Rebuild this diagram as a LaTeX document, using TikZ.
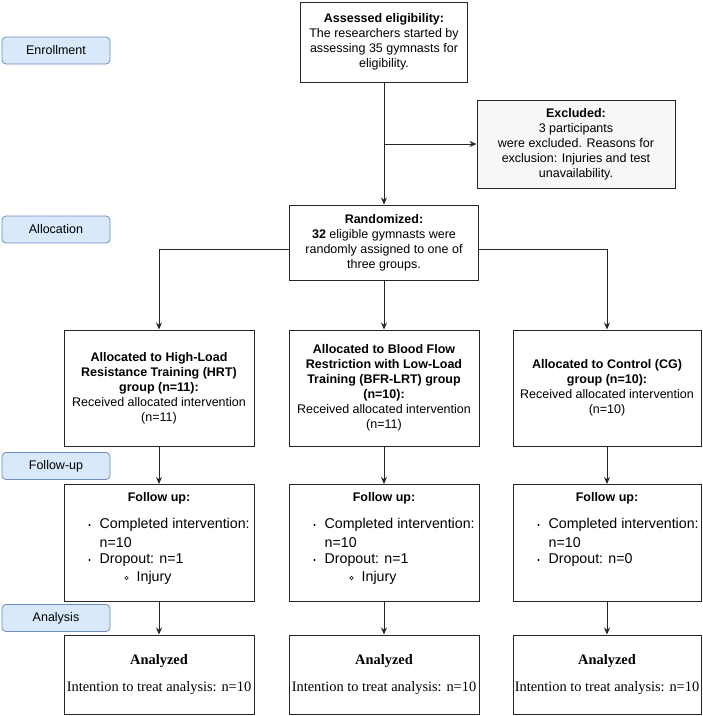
\documentclass[tikz,border=0pt]{standalone}
\usepackage{fontspec}
\setmainfont{Liberation Sans}
\newfontfamily\timesf{Liberation Serif}
\usetikzlibrary{arrows.meta,calc}
\definecolor{lblfill}{HTML}{DAE8FC}
\definecolor{lbldraw}{HTML}{6C8EBF}
\definecolor{exfill}{HTML}{F7F7F7}
\tikzset{
  x=1pt,y=-1pt,
  mainfont/.style={font=\fontsize{12.5}{15}\selectfont},
  listfont/.style={font=\fontsize{14.2}{17.5}\selectfont},
  box/.style={draw=black!85,line width=1pt,fill=white,inner sep=0pt,align=center,mainfont},
  lbl/.style={draw=lbldraw,fill=lblfill,line width=0.8pt,rounded corners=4pt,minimum width=108pt,minimum height=27pt,inner sep=0pt,mainfont},
  grp/.style={box,minimum width=190pt,minimum height=116pt},
  fol/.style={box,minimum width=190pt,minimum height=117pt},
  ana/.style={box,minimum width=190pt,minimum height=79pt,font=\timesf\fontsize{14.4}{17.5}\selectfont},
  narrow/.style={minimum width=188pt},
  item/.style={anchor=west,inner sep=0pt,listfont},
  conn/.style={draw=black!85,line width=1pt},
  arr/.style={conn,-{Stealth[length=7pt,width=6pt]}},
}
\begin{document}
\begin{tikzpicture}
\useasboundingbox (0,0) rectangle (703,716);
% phase labels
\node[lbl] (lenr) at (56,50.5) {Enrollment};
\node[lbl] (lall) at (56,229.5) {Allocation};
\node[lbl] (lfol) at (56,466) {Follow-up};
\node[lbl] (lana) at (56,618) {Analysis};
% top boxes
\node[box,minimum width=167pt,minimum height=80pt] (top) at (384,42)
  {\textbf{Assessed eligibility:}\\The researchers started by\\assessing 35 gymnasts for\\eligibility.};
\node[box,fill=exfill,minimum width=198pt,minimum height=88pt] (excl) at (576,144)
  {\textbf{Excluded:}\\3 participants\\were excluded. Reasons for\\exclusion: Injuries and test\\unavailability.};
\node[box,minimum width=189pt,minimum height=75pt] (rand) at (384,242.5)
  {\textbf{Randomized:}\\\textbf{32} eligible gymnasts were\\randomly assigned to one of\\three groups.};
% groups
\node[grp] (hrt) at (159,388)
  {\textbf{Allocated to High-Load}\\\textbf{Resistance Training (HRT)}\\\textbf{group (n=11):}\\Received allocated intervention\\(n=11)};
\node[grp] (bfr) at (384,388)
  {\textbf{Allocated to Blood Flow}\\\textbf{Restriction with Low-Load}\\\textbf{Training (BFR-LRT) group}\\\textbf{(n=10):}\\Received allocated intervention\\(n=11)};
\node[grp,narrow] (cg) at (607,388)
  {\textbf{Allocated to Control (CG)}\\\textbf{group (n=10):}\\Received allocated intervention\\(n=10)};
% follow-up boxes
\node[fol] (fhrt) at (159,543) {};
\node[fol] (fbfr) at (384,543) {};
\node[fol,narrow] (fcg) at (607,543) {};
\foreach \n in {fhrt,fbfr,fcg}{
  \node[anchor=center,inner sep=0pt,mainfont] (\n-t) at (\n.center |- 0,498) {\textbf{Follow up:}};
  \node[item] (\n-a) at ($(\n.north west)+(36,41)$) {Completed intervention:};
  \node[item] (\n-b) at ($(\n.north west)+(36,58.5)$) {n=10};
  \fill[black] ($(\n.north west)+(26,41)$) circle (1.2);
  \fill[black] ($(\n.north west)+(26,76)$) circle (1.2);
}
\node[item] (fhrt-c) at ($(fhrt.north west)+(36,76)$) {Dropout: n=1};
\node[item] (fbfr-c) at ($(fbfr.north west)+(36,76)$) {Dropout: n=1};
\node[item] (fcg-c) at ($(fcg.north west)+(36,76)$) {Dropout: n=0};
\node[item] (fhrt-d) at ($(fhrt.north west)+(73,93.5)$) {Injury};
\node[item] (fbfr-d) at ($(fbfr.north west)+(73,93.5)$) {Injury};
\foreach \n in {fhrt,fbfr}{\draw[black,line width=0.6pt] ($(\n.north west)+(63,94)$) circle (1.8);}
% analyzed boxes
\node[ana] (ahrt) at (159,674.5) {\textbf{Analyzed}\\[10pt]Intention to treat analysis: n=10};
\node[ana] (abfr) at (384,674.5) {\textbf{Analyzed}\\[10pt]Intention to treat analysis: n=10};
\node[ana,narrow] (acg) at (607,674.5) {\textbf{Analyzed}\\[10pt]Intention to treat analysis: n=10};
% connectors
\coordinate (exb) at (384,144);
\draw[arr] (top.south) -- (rand.north);
\draw[arr] (exb) -- (excl.west);
\draw[arr] ([yshift=-6.5pt]rand.west) -| (hrt.north);
\draw[arr] ([yshift=-6.5pt]rand.east) -| (cg.north);
\draw[arr] (rand.south) -- (bfr.north);
\draw[arr] (hrt.south) -- (fhrt.north);
\draw[arr] (bfr.south) -- (fbfr.north);
\draw[arr] (cg.south) -- (fcg.north);
\draw[arr] (fhrt.south) -- (ahrt.north);
\draw[arr] (fbfr.south) -- (abfr.north);
\draw[arr] (fcg.south) -- (acg.north);
\end{tikzpicture}
\end{document}
